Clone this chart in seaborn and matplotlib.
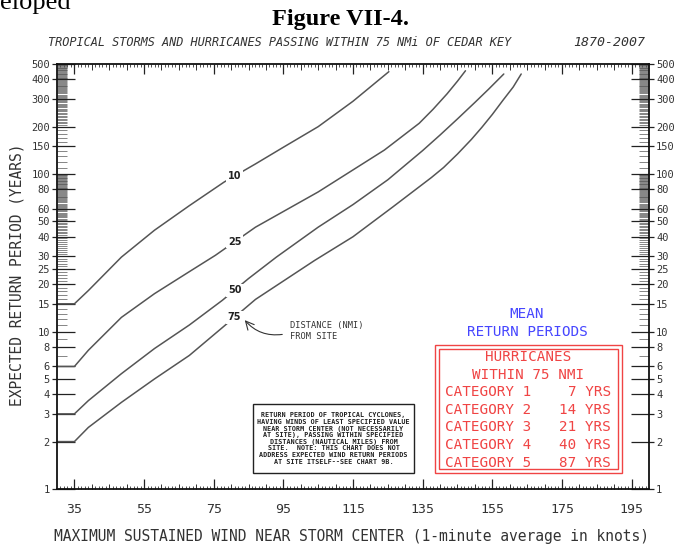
import numpy as np
import pandas as pd
import matplotlib
matplotlib.use("Agg")
import matplotlib.pyplot as plt
import seaborn as sns
from matplotlib.patches import Rectangle
from matplotlib.ticker import FixedLocator, NullLocator, NullFormatter

# ---------------- data ----------------
wind_10 = [30, 35, 39, 48.5, 58, 68, 78, 87, 95, 105, 115, 125.3]
rp_10 = [15, 15, 18.2, 29.7, 44, 63, 89, 116, 148, 200, 290, 447]

wind_25 = [30, 35, 39, 48.5, 58, 68, 75.5, 87, 105, 124, 134, 138, 142, 145, 147.3]
rp_25 = [6, 6, 7.6, 12.3, 17.4, 24, 30.5, 46, 77, 142, 210, 258, 323, 389, 453]

wind_50 = [30, 35, 39, 48.5, 58, 68, 77.5, 85, 93, 105, 115, 125, 135, 140, 145, 150, 154, 158.3]
rp_50 = [3, 3, 3.64, 5.4, 7.8, 11, 15.8, 21.7, 29.7, 46, 64, 92, 141, 177, 224, 285, 347, 432]

wind_75 = [30, 35, 39, 48.5, 58, 68, 77.5, 87, 104, 115, 126.5, 137.5, 141, 145, 149, 152, 155, 158,
           161, 163.3]
rp_75 = [2, 2, 2.46, 3.55, 5.0, 7.05, 10.6, 16, 28.3, 40, 62, 95, 110, 134, 166, 198, 239, 293,
         357, 432]

distances = ["10", "25", "50", "75"]

x_ticks = [35, 55, 75, 95, 115, 135, 155, 175, 195]
y_ticks = [1, 2, 3, 4, 5, 6, 8, 10, 15, 20, 25, 30, 40, 50, 60, 80, 100, 150, 200, 300, 400, 500]

categories = ["CATEGORY 1", "CATEGORY 2", "CATEGORY 3", "CATEGORY 4", "CATEGORY 5"]
cat_years = [7, 14, 21, 40, 87]

note_lines = [
    "RETURN PERIOD OF TROPICAL CYCLONES,",
    "HAVING WINDS OF LEAST SPECIFIED VALUE",
    "NEAR STORM CENTER (NOT NECESSARILY",
    "AT SITE), PASSING WITHIN SPECIFIED",
    "DISTANCES (NAUTICAL MILES) FROM",
    "SITE.  NOTE: THIS CHART DOES NOT",
    "ADDRESS EXPECTED WIND RETURN PERIODS",
    "AT SITE ITSELF--SEE CHART 9B.",
]

# ---------------- figure ----------------
sns.set_style("white")
plt.rcParams["font.family"] = ["DejaVu Sans Mono", "DejaVu Sans"]

W, H = 677, 546
fig = plt.figure(figsize=(W / 100, H / 100), dpi=100)


def fx(x):
    return x / W


def fy(y):
    return 1 - y / H


TXT = "#333333"
L, R, T, B = 57, 649, 64, 489
ax = fig.add_axes([fx(L), fy(B), (R - L) / W, (B - T) / H])

frames = []
for d, w, r in zip(distances, [wind_10, wind_25, wind_50, wind_75], [rp_10, rp_25, rp_50, rp_75]):
    frames.append(pd.DataFrame({"wind": w, "rp": r, "dist": d}))
df = pd.concat(frames, ignore_index=True)

sns.lineplot(data=df, x="wind", y="rp", units="dist", estimator=None, sort=False,
             color="#555555", lw=1.1, ax=ax, legend=False)

ax.set_yscale("log")
ax.set_xlim(30, 200)
ax.set_ylim(1, 500)
ax.set_xlabel("")
ax.set_ylabel("")

for s in ax.spines.values():
    s.set_visible(True)
    s.set_linewidth(1.3)
    s.set_color("#111111")

PX = 0.72  # points per pixel

# x ticks
ax.xaxis.set_major_locator(FixedLocator(x_ticks))
ax.xaxis.set_minor_locator(FixedLocator(np.arange(31, 200, 1)))
ax.set_xticklabels([str(v) for v in x_ticks])
ax.tick_params(axis="x", which="major", direction="in", length=10 * PX, width=0.9,
               top=True, bottom=True, labelsize=9.5, pad=10, colors="#222222", labelcolor=TXT)
ax.tick_params(axis="x", which="minor", direction="in", length=3 * PX, width=0.6,
               top=True, bottom=True, colors="#333333")
mid5 = [v for v in np.arange(40, 200, 5) if v not in x_ticks]
for loc in ["bottom", "top"]:
    sec = ax.secondary_xaxis(loc)
    sec.xaxis.set_major_locator(FixedLocator(mid5))
    sec.xaxis.set_minor_locator(NullLocator())
    sec.xaxis.set_major_formatter(NullFormatter())
    sec.tick_params(direction="in", length=5.5 * PX, width=0.7, colors="#333333")
    for s in sec.spines.values():
        s.set_visible(False)

# y ticks
minor_y = [7, 9] + [v for v in range(11, 100) if v not in y_ticks] + \
          [v for v in range(110, 200, 10) if v not in y_ticks] + \
          [v for v in range(205, 500, 5) if v not in y_ticks]
ax.yaxis.set_major_locator(FixedLocator(y_ticks))
ax.yaxis.set_minor_locator(FixedLocator(minor_y))
ax.yaxis.set_minor_formatter(NullFormatter())
ax.set_yticklabels([str(v) for v in y_ticks])
ax.tick_params(axis="y", which="major", direction="in", length=18 * PX, width=0.9,
               left=True, right=True, labelleft=True, labelright=True,
               labelsize=7.5, pad=7 * PX, colors="#222222", labelcolor=TXT)
ax.tick_params(axis="y", which="minor", direction="in", length=10 * PX, width=0.5,
               left=True, right=True, colors="#555555")
for loc in ["left", "right"]:
    sec = ax.secondary_yaxis(loc)
    sec.yaxis.set_major_locator(FixedLocator(y_ticks))
    sec.yaxis.set_minor_locator(NullLocator())
    sec.yaxis.set_major_formatter(NullFormatter())
    sec.tick_params(direction="out", length=5 * PX, width=0.9, colors="#222222")
    for s in sec.spines.values():
        s.set_visible(False)

# curve labels
label_x = 81
for d, w, r in zip(distances, [wind_10, wind_25, wind_50, wind_75], [rp_10, rp_25, rp_50, rp_75]):
    yv = 10 ** np.interp(label_x, w, np.log10(r))
    ax.text(label_x, yv, d, fontsize=7, fontweight="bold", ha="center", va="center",
            color="#222222", family="DejaVu Sans",
            bbox=dict(boxstyle="square,pad=0.15", fc="white", ec="none"))

# distance annotation
fig.text(fx(290), fy(331), "DISTANCE (NMI)\nFROM SITE", fontsize=6.2, ha="left", va="center",
         color=TXT, linespacing=1.25)
ax.annotate("", xy=(243, H - 318), xycoords="figure pixels",
            xytext=(285, H - 334), textcoords="figure pixels",
            arrowprops=dict(arrowstyle="->,head_length=0.6,head_width=0.3", color="#333333",
                            lw=0.8, connectionstyle="arc3,rad=-0.3"))

# note box
fig.patches.append(Rectangle((fx(253), fy(473)), (414 - 253) / W, (473 - 404) / H,
                             transform=fig.transFigure, fill=False, ec="#222222", lw=1.0))
fig.text(fx(333.5), fy(438.5), "\n".join(note_lines), fontsize=4.9, fontweight="bold",
         ha="center", va="center", multialignment="center", color="#222222", linespacing=1.13)

# mean return periods
blue = "#4646ff"
red = "#f04444"
fig.text(fx(527), fy(314), "MEAN", fontsize=10.3, color=blue, ha="center", va="center")
fig.text(fx(527), fy(332), "RETURN PERIODS", fontsize=10.3, color=blue, ha="center", va="center")
fig.patches.append(Rectangle((fx(435), fy(473)), (622 - 435) / W, (473 - 345) / H,
                             transform=fig.transFigure, fill=False, ec=red, lw=1.0))
fig.patches.append(Rectangle((fx(439), fy(469)), (618 - 439) / W, (469 - 349) / H,
                             transform=fig.transFigure, fill=False, ec=red, lw=1.0))
fig.text(fx(528), fy(357), "HURRICANES", fontsize=10.3, color=red, ha="center", va="center")
fig.text(fx(528), fy(375), "WITHIN 75 NMI", fontsize=10.3, color=red, ha="center", va="center")
row_y = [392, 409.5, 427, 445, 463]
for c, yrs, yy in zip(categories, cat_years, row_y):
    fig.text(fx(445), fy(yy), c, fontsize=10.3, color=red, ha="left", va="center")
    fig.text(fx(611), fy(yy), f"{yrs} YRS", fontsize=10.3, color=red, ha="right", va="center")

# axis labels
fig.text(fx(351), fy(536), "MAXIMUM SUSTAINED WIND NEAR STORM CENTER (1-minute average in knots)",
         fontsize=10.5, ha="center", va="center", color=TXT)
fig.text(fx(17), fy(275), "EXPECTED RETURN PERIOD (YEARS)", fontsize=10.5, rotation=90,
         ha="center", va="center", color=TXT)

# titles
fig.text(fx(0), fy(9), "eloped", family="Liberation Serif", fontsize=19, ha="left",
         va="baseline", color="black")
fig.text(fx(340), fy(20), "Figure VII-4.", family="Liberation Serif", fontsize=17.5,
         fontweight="bold", ha="center", va="center", color="black")
fig.text(fx(48), fy(43), "TROPICAL STORMS AND HURRICANES PASSING WITHIN 75 NMi OF CEDAR KEY",
         fontsize=8.6, style="italic", ha="left", va="center", color=TXT)
fig.text(fx(645), fy(43), "1870-2007", fontsize=9.5, style="italic", ha="right", va="center",
         color=TXT)

fig.savefig("out.png", dpi=100)
